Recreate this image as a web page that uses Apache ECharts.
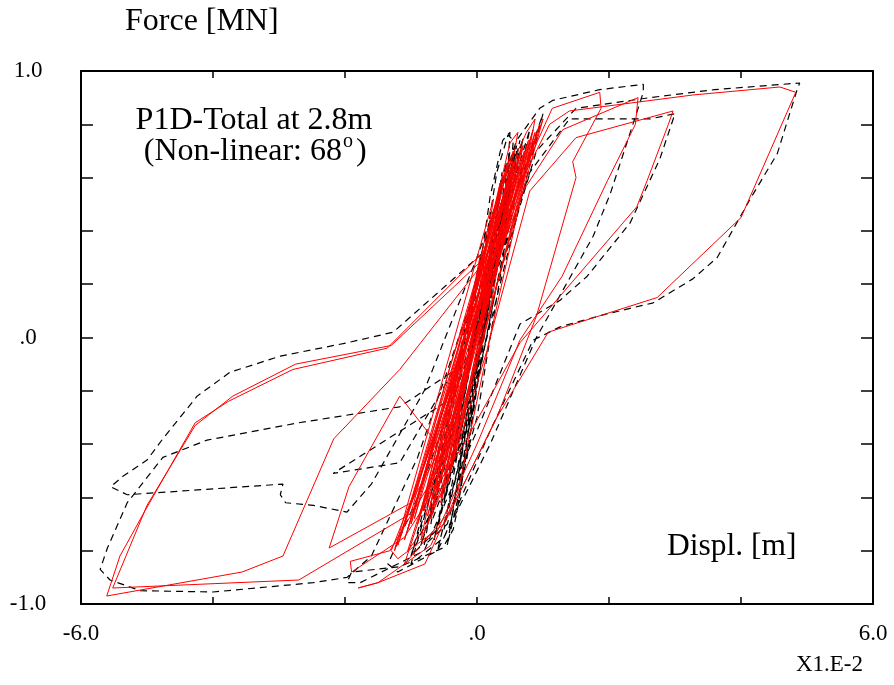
<!DOCTYPE html>
<html>
<head>
<meta charset="utf-8">
<script src="https://cdn.jsdelivr.net/npm/echarts@6/dist/echarts.min.js"></script>
<style>
html,body{margin:0;padding:0;background:#fff;}
#c{width:894px;height:685px;}
</style>
</head>
<body>
<div id="c"></div>
<script>
// Displacement (x1e-2 m) vs force (MN)
const xTickLabels = {"-6": "-6.0", "0": ".0", "6": "6.0"};
const yTickLabels = {"-1": "-1.0", "0": ".0", "1": "1.0"};

// Black dashed history
const blackPath = [
[0.00,0.00],[0.30,0.40],[0.50,0.62],[0.25,0.20],[-0.20,-0.35],[-0.50,-0.62],[-0.25,-0.30],
[0.30,0.45],[0.60,0.70],[0.30,0.25],[-0.25,-0.40],[-0.70,-0.70],[-0.40,-0.30],
[0.10,0.30],[0.30,0.62],[0.47,0.76],[0.55,0.74],[0.40,0.30],[0.00,-0.30],[-0.45,-0.70],[-0.80,-0.78],
[-0.60,-0.50],[0.09,0.34],[0.20,0.53],[0.39,0.74],[0.50,0.77],[0.45,0.55],[0.00,-0.10],
[-0.60,-0.72],[-1.00,-0.82],[-0.70,-0.55],[0.10,0.35],[0.60,0.74],[0.95,0.86],[1.15,0.89],
[1.86,0.93],[2.52,0.95],[2.52,0.92],[2.27,0.73],[2.02,0.54],[1.76,0.38],[0.90,0.00],
[0.20,-0.40],[-0.60,-0.80],[-1.20,-0.88],[-1.35,-0.85],[-0.90,-0.60],[-0.10,-0.05],
[0.80,0.62],[1.40,0.82],[2.62,0.82],[3.00,0.84],[2.77,0.67],[2.62,0.59],[2.32,0.43],
[1.67,0.23],[1.26,0.14],[0.65,0.05],[0.00,-0.35],[-0.80,-0.80],[-1.77,-0.92],[-1.97,-0.92],
[-1.90,-0.88],[-1.17,-0.86],[-0.52,-0.79],[-0.36,-0.72],[-0.30,-0.65],[-0.10,-0.30],
[0.30,0.20],[0.90,0.70],[1.50,0.86],[2.62,0.90],[3.60,0.93],[4.89,0.955],[4.85,0.93],
[4.55,0.69],[4.14,0.52],[3.64,0.30],[3.27,0.22],[2.67,0.13],[1.91,0.085],[1.26,0.04],
[0.85,-0.01],[0.20,-0.35],[-0.50,-0.75],[-1.00,-0.85],[-0.60,-0.50],[0.10,0.32],
[-1.27,0.02],[-1.97,-0.02],[-2.98,-0.07],[-3.74,-0.13],[-4.24,-0.22],[-4.76,-0.38],
[-5.00,-0.46],[-5.36,-0.52],[-5.55,-0.56],[-5.30,-0.59],[-2.94,-0.55],[-2.98,-0.59],
[-2.90,-0.62],[-2.48,-0.63],[-1.97,-0.655],[-1.60,-0.55],[-0.80,-0.20],[0.00,0.30],[0.50,0.65],
[0.20,0.20],[-0.20,-0.10],[-1.17,-0.26],[-2.70,-0.32],[-4.09,-0.385],[-4.76,-0.45],
[-5.30,-0.62],[-5.60,-0.79],[-5.71,-0.87],[-5.56,-0.91],[-5.10,-0.95],[-4.00,-0.955],
[-2.48,-0.92],[-1.97,-0.90],[-1.60,-0.82],[-0.90,-0.45],[0.00,0.20],[0.45,0.66],
[-0.20,-0.20],[-2.18,-0.51],[-1.17,-0.47],[-0.30,-0.10],[0.80,0.78],[0.30,0.20],
[-0.40,-0.70],[-0.20,-0.40],[0.30,0.30],[0.60,0.72],[0.40,0.50],[-0.10,-0.10],
[-0.85,-0.78],[-0.55,-0.55],[0.20,0.25],[1.00,0.84],[0.70,0.55],[-0.05,-0.20],
[-0.30,-0.65],[-0.10,-0.35],[0.38,0.62],[0.20,0.30],[-0.35,-0.40],[-0.65,-0.76],
[-0.40,-0.50],[0.25,0.35],[0.70,0.75],[0.45,0.45],[-0.20,-0.30],[-0.50,-0.72],
[-0.25,-0.45],[0.15,0.15],[0.55,0.68],[0.35,0.35],[-0.15,-0.35],[-1.00,-0.82],
[-0.65,-0.55],[0.00,0.00],[0.65,0.74],[0.50,0.55],[-0.05,-0.15],[-0.45,-0.78],
[-0.15,-0.45],[0.25,0.25],[0.58,0.72],[0.35,0.40],[-0.20,-0.40],[-0.60,-0.80],
[-0.30,-0.50],[0.10,0.10],[0.50,0.70],[0.30,0.30],[0.00,0.00]
];

// Red solid history
const redPath = [
[0.00,0.00],[0.25,0.35],[0.45,0.58],[0.10,0.08],[-0.30,-0.40],[-0.55,-0.62],[-0.20,-0.15],
[0.30,0.45],[0.55,0.66],[0.22,0.18],[-0.25,-0.35],[-0.70,-0.68],[-0.35,-0.20],
[0.15,0.30],[0.62,0.70],[0.75,0.77],[0.88,0.82],[0.60,0.45],[0.15,-0.05],
[-0.40,-0.50],[-0.85,-0.76],[-0.50,-0.35],[0.00,0.20],[0.50,0.73],[0.62,0.77],
[0.35,0.40],[-0.10,-0.10],[-0.75,-0.70],[-1.05,-0.80],[-0.60,-0.45],[0.20,0.30],
[0.85,0.70],[1.14,0.86],[1.86,0.92],[1.88,0.86],[1.45,0.66],[1.50,0.60],
[0.90,0.08],[0.30,-0.30],[-0.50,-0.70],[-1.20,-0.83],[-1.30,-0.80],[-0.90,-0.55],
[-0.20,-0.05],[0.70,0.55],[1.30,0.78],[2.44,0.90],[2.40,0.80],[1.98,0.59],
[1.29,0.23],[0.65,-0.01],[0.00,-0.40],[-0.70,-0.78],[-1.50,-0.92],[-1.80,-0.94],
[-1.50,-0.92],[-0.79,-0.85],[-0.29,-0.58],[0.20,0.00],[0.80,0.55],[1.50,0.75],
[2.97,0.85],[2.90,0.80],[2.58,0.59],[2.42,0.49],[0.65,-0.02],[-0.20,-0.40],
[-1.10,-0.75],[-1.90,-0.88],[-1.92,-0.84],[-1.32,-0.80],[-0.60,-0.50],[0.00,0.00],
[0.60,0.55],[1.10,0.80],[1.40,0.85],[3.27,0.91],[4.59,0.94],[4.83,0.92],
[4.00,0.45],[2.73,0.15],[1.08,0.02],[0.30,-0.30],[-0.40,-0.65],[-1.10,-0.85],
[-0.50,-0.40],[0.05,0.31],[-1.36,-0.04],[-2.79,-0.12],[-3.77,-0.24],[-4.27,-0.32],
[-5.03,-0.65],[-5.41,-0.82],[-5.61,-0.97],[-3.56,-0.88],[-2.94,-0.82],[-2.17,-0.38],
[-1.17,-0.12],[0.00,0.25],[0.55,0.62],[0.20,0.10],[0.08,0.29],[-1.30,-0.03],
[-2.75,-0.10],[-3.70,-0.22],[-4.27,-0.33],[-5.00,-0.63],[-5.52,-0.94],[-2.70,-0.91],
[-1.00,-0.66],[-0.40,-0.10],[0.40,0.50],[0.70,0.72],[0.30,0.25],
[-0.60,-0.40],[-1.17,-0.22],[-1.94,-0.56],[-2.24,-0.79],[-1.00,-0.62],[-0.40,-0.35],
[0.10,0.35],[0.50,0.68],
[0.42,0.62],[-0.95,-0.68],[0.78,0.74],[-0.60,-0.58],[0.55,0.70],[-1.15,-0.74],
[0.95,0.80],[-0.80,-0.65],[0.35,0.58],[-0.45,-0.55],[0.68,0.72],[-1.05,-0.72],
[0.85,0.78],[-0.70,-0.62],[0.48,0.66],[-0.90,-0.70],[0.72,0.70],[-1.20,-0.78],
[0.60,0.68],[-0.55,-0.60],[0.90,0.76],[-0.85,-0.66],[0.40,0.60],[-1.00,-0.70],
[0.52,0.64],[-0.65,-0.63],[0.80,0.73],[-0.75,-0.67],[0.65,0.69],[-0.50,-0.52],
[1.00,0.82],[-1.25,-0.80],[0.25,0.52],[-0.40,-0.50],[0.88,0.77],[-1.10,-0.76],
[0.30,0.40],[0.00,0.00]
];

const SERIF = '"Liberation Serif", "Times New Roman", serif';
function axisLbl(map) {
  return function (v) {
    const k = String(Math.round(v * 1000) / 1000);
    return map[k] !== undefined ? map[k] : '';
  };
}
function txt(s, x, y, size, align) {
  return {type: 'text', x: x, y: y, silent: true, style: {text: s, fill: '#000',
    font: size + 'px ' + SERIF, textAlign: align, textVerticalAlign: 'middle',
    align: align, verticalAlign: 'middle'}};
}
const axisLineStyle = {color: '#000', width: 2};
const chart = echarts.init(document.getElementById('c'), null, {renderer: 'canvas'});
chart.setOption({
  animation: false,
  backgroundColor: '#fff',
  grid: {left: 81, top: 71, right: 21, bottom: 81, containLabel: false},
  xAxis: [
    {type: 'value', min: -6, max: 6, interval: 2, position: 'bottom',
     axisLine: {show: true, onZero: false, lineStyle: axisLineStyle},
     axisTick: {show: true, inside: true, length: 7, lineStyle: {color: '#000', width: 1.5}},
     splitLine: {show: false},
     axisLabel: {show: true, showMinLabel: true, showMaxLabel: true, margin: 18, color: '#000',
       fontFamily: SERIF, fontSize: 23, formatter: axisLbl(xTickLabels)}},
    {type: 'value', min: -6, max: 6, interval: 2, position: 'top',
     axisLine: {show: true, onZero: false, lineStyle: axisLineStyle},
     axisTick: {show: true, inside: true, length: 7, lineStyle: {color: '#000', width: 1.5}},
     splitLine: {show: false}, axisLabel: {show: false}}
  ],
  yAxis: [
    {type: 'value', min: -1, max: 1, interval: 0.2, position: 'left',
     axisLine: {show: true, onZero: false, lineStyle: axisLineStyle},
     axisTick: {show: true, inside: true, length: 12, lineStyle: {color: '#000', width: 1.5}},
     splitLine: {show: false},
     axisLabel: {show: true, showMinLabel: true, showMaxLabel: true, margin: 53, align: 'center',
       color: '#000', fontFamily: SERIF, fontSize: 23, formatter: axisLbl(yTickLabels)}},
    {type: 'value', min: -1, max: 1, interval: 0.2, position: 'right',
     axisLine: {show: true, onZero: false, lineStyle: axisLineStyle},
     axisTick: {show: true, inside: true, length: 12, lineStyle: {color: '#000', width: 1.5}},
     splitLine: {show: false}, axisLabel: {show: false}}
  ],
  series: [
    {type: 'line', name: 'black', xAxisIndex: 0, yAxisIndex: 0, data: blackPath, symbol: 'none',
     lineStyle: {color: '#000', width: 1.2, type: [7, 5]}, z: 2, silent: true},
    {type: 'line', name: 'red', xAxisIndex: 0, yAxisIndex: 0, data: redPath, symbol: 'none',
     lineStyle: {color: '#ff0000', width: 1}, z: 3, silent: true}
  ],
  graphic: [
    txt('Force [MN]', 125, 22, 32, 'left'),
    txt('Displ. [m]', 667, 547, 31.5, 'left'),
    txt('X1.E-2', 863, 665, 23, 'right'),
    txt('P1D-Total at 2.8m', 254, 121, 32, 'center'),
    txt('(Non-linear: 68', 342, 152, 32, 'right'),
    txt('o', 343, 142, 20, 'left'),
    txt(')', 356, 152, 32, 'left')
  ]
});
</script>
</body>
</html>
